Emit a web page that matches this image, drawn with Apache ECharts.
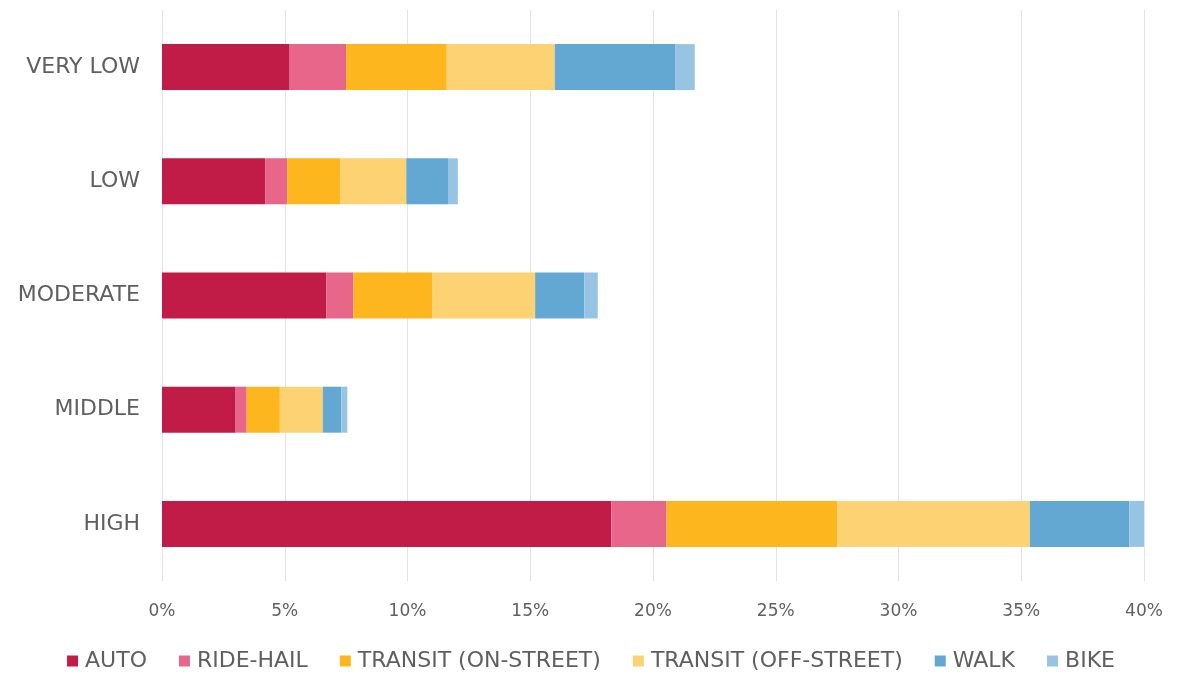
<!DOCTYPE html>
<html>
<head>
<meta charset="utf-8">
<script src="https://cdn.jsdelivr.net/npm/echarts@6/dist/echarts.min.js"></script>
<style>
  html, body { margin: 0; padding: 0; background: #fff; }
  #chart { width: 1182px; height: 673px; }
</style>
</head>
<body>
<div id="chart"></div>
<script>
  // categories listed bottom to top (echarts category axis starts at the bottom)
  var categories = ['HIGH', 'MIDDLE', 'MODERATE', 'LOW', 'VERY LOW']
  var seriesNames = ['AUTO', 'RIDE-HAIL', 'TRANSIT (ON-STREET)', 'TRANSIT (OFF-STREET)', 'WALK', 'BIKE']
  var auto = [18.3, 3.0, 6.7, 4.2, 5.2]
  var rideHail = [2.25, 0.45, 1.1, 0.9, 2.3]
  var transitOn = [6.95, 1.35, 3.2, 2.15, 4.1]
  var transitOff = [7.85, 1.75, 4.2, 2.7, 4.4]
  var walk = [4.05, 0.75, 2.0, 1.7, 4.9]
  var bike = [0.6, 0.25, 0.55, 0.4, 0.8]
  var colors = ['#C11B48', '#E8668A', '#FDB61E', '#FDD273', '#62A8D2', '#98C4E4']

  var values = [auto, rideHail, transitOn, transitOff, walk, bike]
  var textColor = '#5f5f5f'
  var font = '"DejaVu Sans", sans-serif'

  var chart = echarts.init(document.getElementById('chart'))

  chart.setOption({
    animation: false,
    color: colors,
    grid: {
      left: 162,
      right: 38,
      top: 10,
      bottom: 92
    },
    legend: {
      top: 645,
      left: 'center',
      itemWidth: 11,
      itemHeight: 11,
      itemGap: 32,
      icon: 'rect',
      textStyle: { color: textColor, fontSize: 22, fontFamily: font, padding: [0, 0, 0, 2] },
      data: seriesNames
    },
    xAxis: {
      type: 'value',
      min: 0,
      max: 40,
      interval: 5,
      axisLine: { show: false },
      axisTick: { show: false },
      axisLabel: {
        color: textColor,
        fontSize: 17,
        fontFamily: font,
        margin: 22,
        formatter: '{value}%'
      },
      splitLine: { lineStyle: { color: '#e3e3e3', width: 1 } }
    },
    yAxis: {
      type: 'category',
      data: categories,
      axisLine: { show: false },
      axisTick: { show: false },
      axisLabel: {
        color: textColor,
        fontSize: 22,
        fontFamily: font,
        margin: 22
      }
    },
    series: seriesNames.map(function (name, i) {
      return {
        name: name,
        type: 'bar',
        stack: 'total',
        barWidth: 46,
        data: values[i]
      }
    })
  })
</script>
</body>
</html>
